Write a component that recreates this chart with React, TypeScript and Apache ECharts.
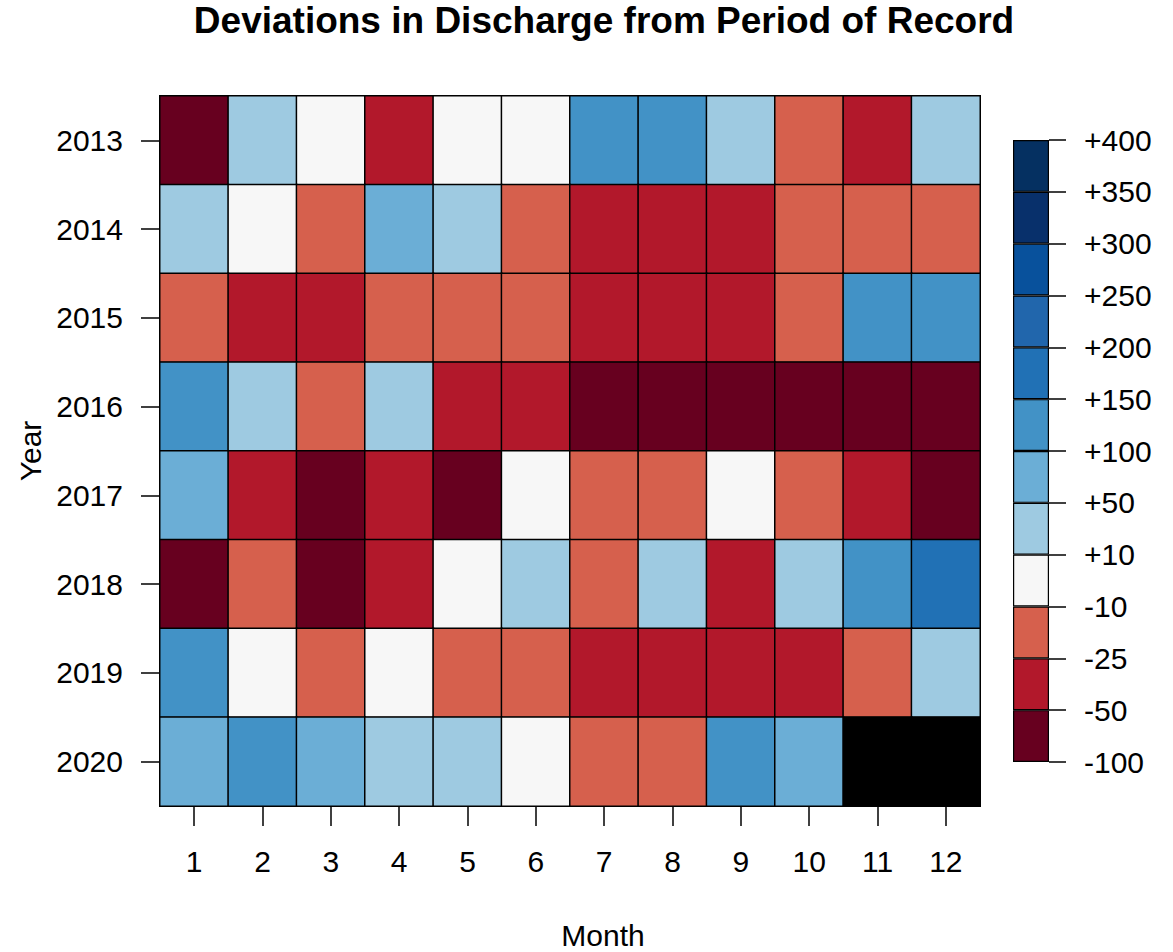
import React, { useEffect, useRef } from "react";
import * as echarts from "echarts";

const FONT = '"Liberation Sans", Arial, Helvetica, sans-serif';

const titleText = "Deviations in Discharge from Period of Record";
const months = ["1", "2", "3", "4", "5", "6", "7", "8", "9", "10", "11", "12"];
const years = ["2013", "2014", "2015", "2016", "2017", "2018", "2019", "2020"];

// Percent deviation from period of record (estimated within each colour bin); null = no data
const dev2013 = [-75, 30, 0, -37, 0, 0, 125, 125, 30, -18, -37, 30];
const dev2014 = [30, 0, -18, 75, 30, -18, -37, -37, -37, -18, -18, -18];
const dev2015 = [-18, -37, -37, -18, -18, -18, -37, -37, -37, -18, 125, 125];
const dev2016 = [125, 30, -18, 30, -37, -37, -75, -75, -75, -75, -75, -75];
const dev2017 = [75, -37, -75, -37, -75, 0, -18, -18, 0, -18, -37, -75];
const dev2018 = [-75, -18, -75, -37, 0, 30, -18, 30, -37, 30, 125, 175];
const dev2019 = [125, 0, -18, 0, -18, -18, -37, -37, -37, -37, -18, 30];
const dev2020 = [75, 125, 75, 30, 30, 0, -18, -18, 125, 75, null, null];
const devRows = [dev2013, dev2014, dev2015, dev2016, dev2017, dev2018, dev2019, dev2020];

// Legend breaks and colours
const breaks = [-100, -50, -25, -10, 10, 50, 100, 150, 200, 250, 300, 350, 400];
const breakLabels = ["-100", "-50", "-25", "-10", "+10", "+50", "+100", "+150", "+200", "+250", "+300", "+350", "+400"];
const binColors = [
  "#67001F", "#B2182B", "#D6604D", "#F7F7F7", "#9ECAE1", "#6BAED6",
  "#4292C6", "#2171B5", "#2166AC", "#08519C", "#08306B", "#053061",
];
const naColor = "#000000";

export default function App() {
  const ref = useRef<HTMLDivElement>(null);

  useEffect(() => {
    if (!ref.current) return;
    const chart = echarts.init(ref.current, null, { renderer: "svg" });

    const heatData: any[] = [];
    const naData: any[] = [];
    devRows.forEach((row, yi) => {
      row.forEach((v, xi) => {
        if (v === null) naData.push([xi, yi, 0]);
        else heatData.push([xi, yi, v]);
      });
    });

    const pieces = binColors.map((c, i) => ({ gte: breaks[i], lt: breaks[i + 1], color: c }));

    const legendSeries = binColors.map((c, i) => ({
      type: "bar",
      xAxisIndex: 1,
      yAxisIndex: 1,
      stack: "legend",
      barWidth: "100%",
      silent: true,
      data: [1],
      itemStyle: { color: c, borderColor: "#000", borderWidth: 1.2 },
    }));

    const option: any = {
      animation: false,
      backgroundColor: "#ffffff",
      textStyle: { fontFamily: FONT },
      title: [
        {
          text: titleText,
          left: 604,
          top: 2,
          padding: 0,
          textAlign: "center",
          textStyle: { fontSize: 37, fontWeight: "bold", color: "#000", fontFamily: FONT },
        },
        {
          text: "Month",
          left: 603,
          top: 920,
          padding: 0,
          textAlign: "center",
          textStyle: { fontSize: 30, fontWeight: "normal", color: "#000", fontFamily: FONT },
        },
      ],
      grid: [
        { left: 160, top: 96, width: 820, height: 710 },
        { left: 1013, top: 140, width: 36, height: 622 },
      ],
      xAxis: [
        {
          type: "category",
          gridIndex: 0,
          data: months,
          position: "bottom",
          axisLine: { show: true, lineStyle: { color: "#000", width: 1.5 } },
          axisTick: { show: true, alignWithLabel: true, length: 20, lineStyle: { color: "#000", width: 1.5 } },
          axisLabel: { fontSize: 30, color: "#000", margin: 40, fontFamily: FONT },
          splitLine: { show: false },
        },
        {
          type: "category",
          gridIndex: 1,
          data: ["legend"],
          show: false,
        },
      ],
      yAxis: [
        {
          type: "category",
          gridIndex: 0,
          data: years,
          inverse: true,
          name: "Year",
          nameLocation: "middle",
          nameGap: 114,
          nameTextStyle: { fontSize: 30, color: "#000", fontFamily: FONT },
          axisLine: { show: true, lineStyle: { color: "#000", width: 1.5 } },
          axisTick: { show: true, alignWithLabel: true, length: 19, lineStyle: { color: "#000", width: 1.5 } },
          axisLabel: { fontSize: 30, color: "#000", margin: 37, fontFamily: FONT },
          splitLine: { show: false },
        },
        {
          type: "value",
          gridIndex: 1,
          position: "right",
          min: 0,
          max: 12,
          interval: 1,
          axisLine: { show: false },
          axisTick: { show: true, length: 17, lineStyle: { color: "#000", width: 1.5 } },
          axisLabel: {
            fontSize: 30,
            color: "#000",
            margin: 35,
            fontFamily: FONT,
            formatter: (v: number) => breakLabels[Math.round(v)] ?? "",
          },
          splitLine: { show: false },
        },
      ],
      visualMap: [
        {
          type: "piecewise",
          show: false,
          seriesIndex: 0,
          dimension: 2,
          pieces,
        },
        {
          type: "continuous",
          show: false,
          seriesIndex: 1,
          dimension: 2,
          min: 0,
          max: 1,
          inRange: { color: [naColor, naColor] },
        },
      ],
      series: [
        {
          type: "heatmap",
          xAxisIndex: 0,
          yAxisIndex: 0,
          data: heatData,
          itemStyle: { borderColor: "#000", borderWidth: 1.5 },
          emphasis: { disabled: true },
        },
        {
          type: "heatmap",
          xAxisIndex: 0,
          yAxisIndex: 0,
          data: naData,
          itemStyle: { color: naColor, borderColor: "#000", borderWidth: 1.5 },
          emphasis: { disabled: true },
        },
        ...legendSeries,
      ],
    };

    chart.setOption(option);
    return () => chart.dispose();
  }, []);

  return (
    <div
      ref={ref}
      style={{ position: "fixed", left: 0, top: 0, width: 1173, height: 952, background: "#fff" }}
    />
  );
}
